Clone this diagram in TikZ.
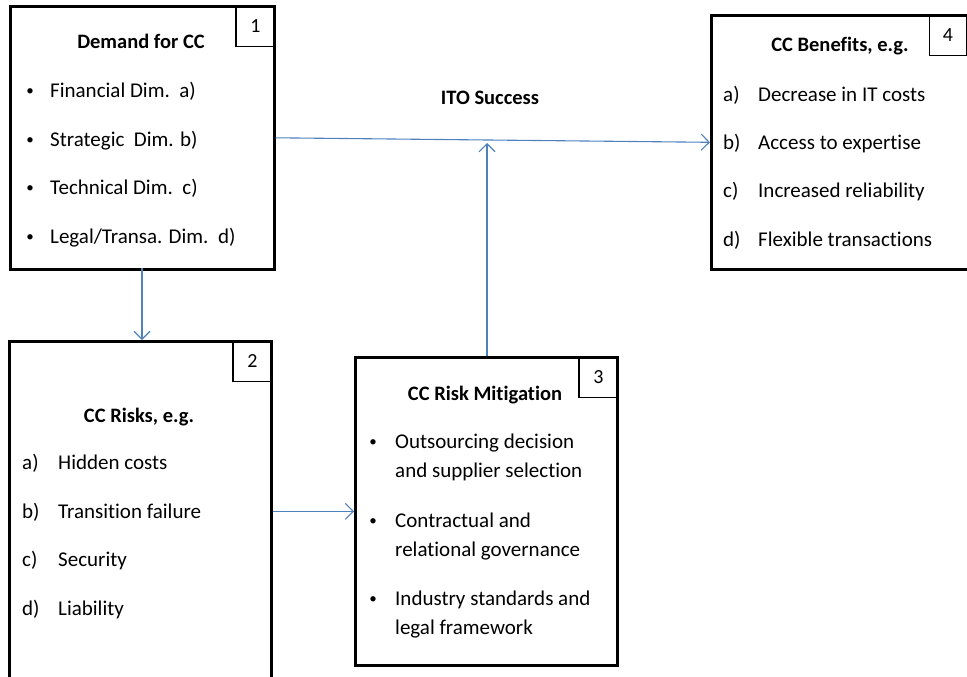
\documentclass[tikz,border=0pt]{standalone}
\usepackage{fontspec}
\setmainfont[Ligatures=NoCommon]{Carlito}
\usetikzlibrary{arrows.meta,calc}
\definecolor{arrblue}{RGB}{79,129,189}
\tikzset{
  box/.style={draw=black, line width=2.6pt, anchor=north west, inner sep=0pt},
  numbox/.style={draw=black, line width=1.3pt, anchor=north east, minimum width=39pt, minimum height=41pt, inner sep=0pt, font=\fontsize{20}{24}\selectfont},
  title/.style={font=\fontsize{20.5}{24}\selectfont\bfseries, inner sep=0pt, anchor=base, yshift=-7pt},
  txt/.style={font=\fontsize{21}{25}\selectfont, anchor=base west, inner sep=0pt, yshift=-7pt},
  bul/.style={font=\fontsize{15}{18}\selectfont, anchor=center, inner sep=0pt, yshift=-2pt},
  arr/.style={draw=arrblue, line width=1.1pt, -{Straight Barb[length=8pt,width=16pt,line width=1.1pt]}},
}
\begin{document}
\begin{tikzpicture}[x=1pt,y=-1pt]
\useasboundingbox (0,0) rectangle (967,677);
\clip (0,0) rectangle (967,677);
% boxes
\node[box, minimum width=264pt, minimum height=263pt] (b1) at (9,5) {};
\node[box, minimum width=262pt, minimum height=344pt] (b2) at (8,340) {};
\node[box, minimum width=262pt, minimum height=308pt] (b3) at (354,356) {};
\node[box, minimum width=262pt, minimum height=254pt] (b4) at (710,14) {};
% number boxes
\node[numbox] (n1) at (b1.north east) {1};
\node[numbox] (n2) at (b2.north east) {2};
\node[numbox] (n3) at (b3.north east) {3};
\node[numbox, minimum width=37pt] (n4) at (967,14) {4};
% box 1
\node[title] (t1) at (141,42) {Demand for CC};
\foreach \y/\t [count=\i] in {90/{Financial Dim.\ \ a)}, 139/{Strategic\ \ Dim. b)}, 187/{Technical Dim.\ \ c)}, 236/{Legal/Transa. Dim.\ \ d)}} {
  \node[bul] (b1bul\i) at (30,\y) {•};
  \node[txt] (b1it\i) at (50,\y) {\t};
}
% box 2
\node[title] (t2) at (139,415) {CC Risks, e.g.};
\foreach \y/\l/\t [count=\i] in {462/a)/Hidden costs, 511/b)/Transition failure, 559/c)/Security, 608/d)/Liability} {
  \node[txt] (b2lab\i) at (22,\y) {\l};
  \node[txt] (b2it\i) at (58,\y) {\t};
}
% box 3
\node[title] (t3) at (485,393) {CC Risk Mitigation};
\foreach \y/\a/\b [count=\i] in {441/Outsourcing decision/and supplier selection, 520/Contractual and/relational governance, 598/Industry standards and/legal framework} {
  \node[bul] (b3bul\i) at (373,\y) {•};
  \node[txt] (b3it\i) at (395,\y) {\a};
  \node[txt] (b3itb\i) at (395,\y+29.5) {\b};
}
% box 4
\node[title] (t4) at (840,45) {CC Benefits, e.g.};
\foreach \y/\l/\t [count=\i] in {94/a)/Decrease in IT costs, 142/b)/Access to expertise, 190/c)/Increased reliability, 239/d)/Flexible transactions} {
  \node[txt] (b4lab\i) at (723,\y) {\l};
  \node[txt] (b4it\i) at (758,\y) {\t};
}
% ITO label
\node[title] (ito) at (490,98) {ITO Success};
% connectors
\coordinate (c1) at (142,268);
\draw[arr] (c1) -- (c1 |- b2.north);
\draw[arr] (b1.east) -- (b4.west);
\coordinate (c3) at (487,356);
\draw[arr] (c3) -- (487,143);
\draw[arr] (b2.east |- b3.west) -- (b3.west);
\end{tikzpicture}
\end{document}
